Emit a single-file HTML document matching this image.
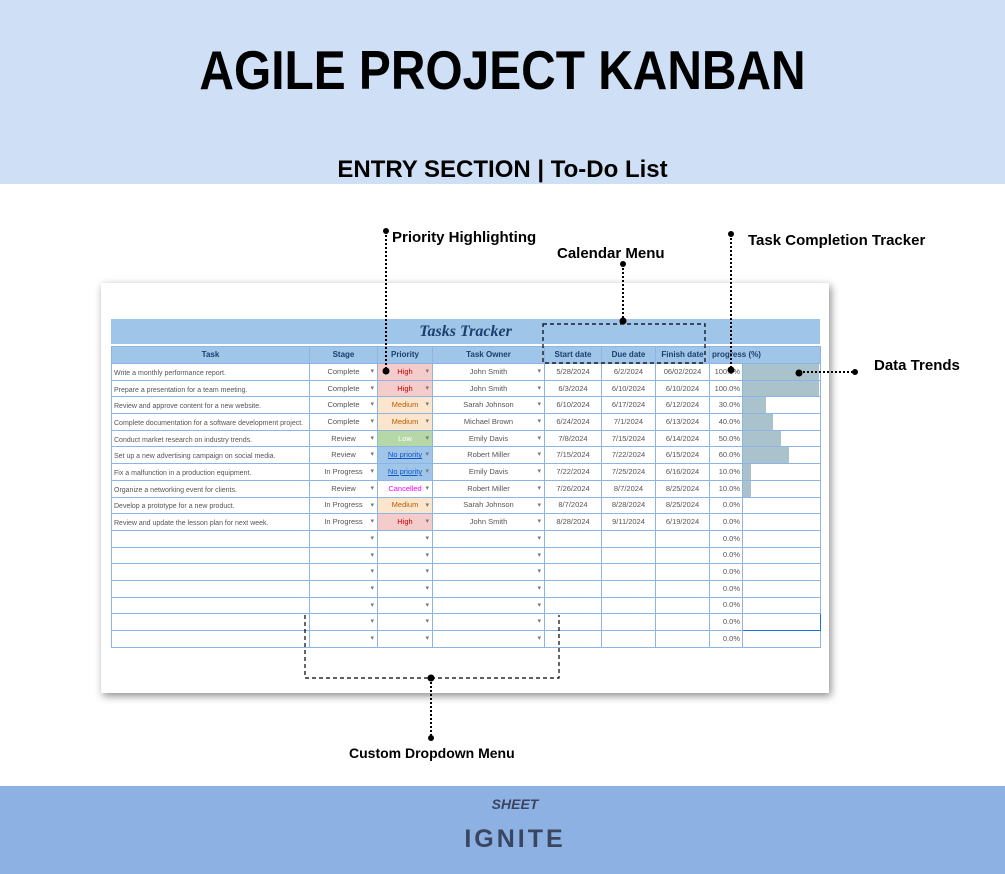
<!DOCTYPE html>
<html><head><meta charset="utf-8"><style>
*{margin:0;padding:0;box-sizing:border-box}
body{width:1005px;height:874px;position:relative;background:#fff;font-family:"Liberation Sans",Arial,sans-serif;overflow:hidden}
.top{position:absolute;left:0;top:0;width:1005px;height:184px;background:#cfdff5}
.t1{position:absolute;left:0;width:1005px;top:38px;text-align:center;font-size:55px;font-weight:bold;color:#000;transform:scaleX(0.87)}
.t2{position:absolute;left:0;width:1005px;top:156px;text-align:center;font-size:24px;font-weight:bold;color:#000}
.bot{position:absolute;left:0;top:786px;width:1005px;height:88px;background:#8eb1e3}
.card{position:absolute;left:101px;top:283px;width:728px;height:410px;background:#fff;box-shadow:2px 3px 8px rgba(0,0,0,.45)}
.tbar{position:absolute;left:111px;top:319px;width:709px;height:25px;background:#9fc5e8;text-align:center;font:italic bold 16px "Liberation Serif",serif;color:#1c3f6e;line-height:25px}
table{position:absolute;left:111px;top:346px;border-collapse:collapse;table-layout:fixed;width:709px}
td{border:1px solid #8db4e2;height:16.7px;font-size:7.5px;line-height:10px;vertical-align:middle;color:#555;text-align:center;white-space:nowrap;overflow:hidden;position:relative;padding:0 2px}
tr.h td{background:#9fc5e8;color:#1c3f6e;font-weight:bold;font-size:8px;height:17px}
td.l{text-align:left;font-size:7px;padding-top:4px}
td.dd::after{content:"▾";position:absolute;right:3px;top:3px;font-size:7px;color:#777}
.hi{background:#f4cccc;color:#c00}
.me{background:#fce5cd;color:#b45f06}
.lo{background:#b6d7a8;color:#fff}
.np{background:#9fc5e8;color:#1155cc;text-decoration:underline}
.ca{color:#f0f}
td.p{text-align:right;padding-right:2px}
.bar{position:absolute;left:0;top:0;height:100%;background:#a9c2cc}
.lab{position:absolute;font-size:15px;font-weight:bold;color:#000}
</style></head><body>
<div class="top"></div>
<div class="t1">AGILE PROJECT KANBAN</div>
<div class="t2">ENTRY SECTION | To-Do List</div>
<div class="card"></div>
<div class="tbar">Tasks Tracker</div>
<table>
<colgroup><col style="width:198px"><col style="width:68px"><col style="width:55px"><col style="width:112px"><col style="width:57px"><col style="width:54px"><col style="width:54px"><col style="width:33px"><col style="width:78px"></colgroup>
<tr class="h"><td>Task</td><td>Stage</td><td>Priority</td><td>Task Owner</td><td>Start date</td><td>Due date</td><td>Finish date</td><td colspan="2" style="text-align:left">progress (%)</td></tr>
<tr><td class="l">Write a monthly performance report.</td><td class="dd">Complete</td><td class="dd hi">High</td><td class="dd">John Smith</td><td>5/28/2024</td><td>6/2/2024</td><td>06/02/2024</td><td class="p">100.0%</td><td><div class="bar" style="width:76px"></div></td></tr>
<tr><td class="l">Prepare a presentation for a team meeting.</td><td class="dd">Complete</td><td class="dd hi">High</td><td class="dd">John Smith</td><td>6/3/2024</td><td>6/10/2024</td><td>6/10/2024</td><td class="p">100.0%</td><td><div class="bar" style="width:76px"></div></td></tr>
<tr><td class="l">Review and approve content for a new website.</td><td class="dd">Complete</td><td class="dd me">Medium</td><td class="dd">Sarah Johnson</td><td>6/10/2024</td><td>6/17/2024</td><td>6/12/2024</td><td class="p">30.0%</td><td><div class="bar" style="width:23px"></div></td></tr>
<tr><td class="l">Complete documentation for a software development project.</td><td class="dd">Complete</td><td class="dd me">Medium</td><td class="dd">Michael Brown</td><td>6/24/2024</td><td>7/1/2024</td><td>6/13/2024</td><td class="p">40.0%</td><td><div class="bar" style="width:30px"></div></td></tr>
<tr><td class="l">Conduct market research on industry trends.</td><td class="dd">Review</td><td class="dd lo">Low</td><td class="dd">Emily Davis</td><td>7/8/2024</td><td>7/15/2024</td><td>6/14/2024</td><td class="p">50.0%</td><td><div class="bar" style="width:38px"></div></td></tr>
<tr><td class="l">Set up a new advertising campaign on social media.</td><td class="dd">Review</td><td class="dd np">No priority</td><td class="dd">Robert Miller</td><td>7/15/2024</td><td>7/22/2024</td><td>6/15/2024</td><td class="p">60.0%</td><td><div class="bar" style="width:46px"></div></td></tr>
<tr><td class="l">Fix a malfunction in a production equipment.</td><td class="dd">In Progress</td><td class="dd np">No priority</td><td class="dd">Emily Davis</td><td>7/22/2024</td><td>7/25/2024</td><td>6/16/2024</td><td class="p">10.0%</td><td><div class="bar" style="width:8px"></div></td></tr>
<tr><td class="l">Organize a networking event for clients.</td><td class="dd">Review</td><td class="dd ca">Cancelled</td><td class="dd">Robert Miller</td><td>7/26/2024</td><td>8/7/2024</td><td>8/25/2024</td><td class="p">10.0%</td><td><div class="bar" style="width:8px"></div></td></tr>
<tr><td class="l">Develop a prototype for a new product.</td><td class="dd">In Progress</td><td class="dd me">Medium</td><td class="dd">Sarah Johnson</td><td>8/7/2024</td><td>8/28/2024</td><td>8/25/2024</td><td class="p">0.0%</td><td></td></tr>
<tr><td class="l">Review and update the lesson plan for next week.</td><td class="dd">In Progress</td><td class="dd hi">High</td><td class="dd">John Smith</td><td>8/28/2024</td><td>9/11/2024</td><td>6/19/2024</td><td class="p">0.0%</td><td></td></tr>
<tr><td></td><td class="dd"></td><td class="dd"></td><td class="dd"></td><td></td><td></td><td></td><td class="p">0.0%</td><td></td></tr>
<tr><td></td><td class="dd"></td><td class="dd"></td><td class="dd"></td><td></td><td></td><td></td><td class="p">0.0%</td><td></td></tr>
<tr><td></td><td class="dd"></td><td class="dd"></td><td class="dd"></td><td></td><td></td><td></td><td class="p">0.0%</td><td></td></tr>
<tr><td></td><td class="dd"></td><td class="dd"></td><td class="dd"></td><td></td><td></td><td></td><td class="p">0.0%</td><td></td></tr>
<tr><td></td><td class="dd"></td><td class="dd"></td><td class="dd"></td><td></td><td></td><td></td><td class="p">0.0%</td><td></td></tr>
<tr><td></td><td class="dd"></td><td class="dd"></td><td class="dd"></td><td></td><td></td><td></td><td class="p">0.0%</td><td style="border:1.5px solid #1a73e8"></td></tr>
<tr><td></td><td class="dd"></td><td class="dd"></td><td class="dd"></td><td></td><td></td><td></td><td class="p">0.0%</td><td></td></tr>
</table>
<svg width="1005" height="874" style="position:absolute;left:0;top:0" xmlns="http://www.w3.org/2000/svg">
<g stroke="#000" stroke-width="2" fill="none" stroke-dasharray="2,2">
<line x1="386" y1="231" x2="386" y2="371"/>
<line x1="623" y1="264" x2="623" y2="321"/>
<line x1="731" y1="234" x2="731" y2="370"/>
<line x1="799" y1="372" x2="855" y2="372"/>
<line x1="431" y1="678" x2="431" y2="738"/>
</g>
<g stroke="#000" stroke-width="1.2" fill="none" stroke-dasharray="4,3">
<rect x="543" y="324" width="162" height="39"/>
<polyline points="305,615 305,678 559,678 559,615"/>
</g>
<g fill="#000">
<circle cx="386" cy="231" r="3"/><circle cx="386" cy="371" r="3.5"/>
<circle cx="623" cy="264" r="3"/><circle cx="623" cy="321" r="3.5"/>
<circle cx="731" cy="234" r="3"/><circle cx="731" cy="370" r="3.5"/>
<circle cx="799" cy="373" r="3.5"/><circle cx="855" cy="372" r="3"/>
<circle cx="431" cy="678" r="3.5"/><circle cx="431" cy="738" r="3"/>
</g>
<line x1="465" y1="856" x2="565" y2="856" stroke="#cfe0f7" stroke-width="1"/>
</svg>
<div class="lab" style="left:392px;top:229px">Priority Highlighting</div>
<div class="lab" style="left:557px;top:245px">Calendar Menu</div>
<div class="lab" style="left:748px;top:232px">Task Completion Tracker</div>
<div class="lab" style="left:874px;top:357px">Data Trends</div>
<div class="lab" style="left:349px;top:745px;font-size:14px">Custom Dropdown Menu</div>
<div class="bot"></div>
<div style="position:absolute;left:440px;width:150px;top:796px;text-align:center;font:italic bold 14px 'Liberation Sans',sans-serif;color:#3a4560">SHEET</div>
<div style="position:absolute;left:440px;width:150px;top:825px;text-align:center;font:bold 25px 'Liberation Sans',sans-serif;color:#3a4560;letter-spacing:3px;line-height:28px">IGNITE</div>
</body></html>
